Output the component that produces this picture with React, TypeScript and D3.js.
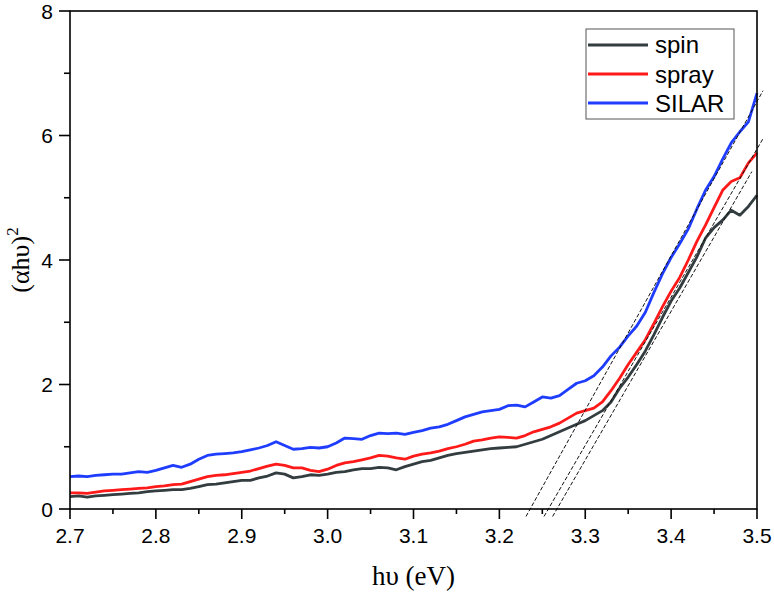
import React from "react";
import * as d3 from "d3";

const seriesNames = ["spin", "spray", "SILAR"];
const seriesColors = ["#333d40", "#ff1a1a", "#1f3dff"];

const spin = [
  0.20, 0.21, 0.19, 0.21, 0.22, 0.23, 0.24, 0.25, 0.26, 0.28,
  0.29, 0.30, 0.31, 0.31, 0.33, 0.36, 0.39, 0.40, 0.42, 0.44,
  0.46, 0.46, 0.50, 0.53, 0.58, 0.56, 0.50, 0.52, 0.55, 0.54,
  0.56, 0.59, 0.60, 0.63, 0.65, 0.65, 0.67, 0.66, 0.63, 0.68,
  0.72, 0.76, 0.78, 0.82, 0.86, 0.89, 0.91, 0.93, 0.95, 0.97,
  0.98, 0.99, 1.00, 1.04, 1.08, 1.12, 1.18, 1.24, 1.30, 1.36,
  1.42, 1.50, 1.58, 1.72, 1.94, 2.12, 2.32, 2.54, 2.80, 3.08,
  3.34, 3.55, 3.80, 4.05, 4.35, 4.52, 4.64, 4.80, 4.72, 4.86,
  5.04,
];

const spray = [
  0.26, 0.26, 0.25, 0.27, 0.29, 0.30, 0.31, 0.32, 0.33, 0.34,
  0.36, 0.37, 0.39, 0.40, 0.44, 0.48, 0.52, 0.54, 0.55, 0.57,
  0.59, 0.61, 0.65, 0.69, 0.72, 0.70, 0.66, 0.66, 0.62, 0.60,
  0.64, 0.70, 0.74, 0.76, 0.79, 0.82, 0.86, 0.85, 0.82, 0.80,
  0.85, 0.88, 0.90, 0.93, 0.97, 1.00, 1.04, 1.09, 1.11, 1.14,
  1.16, 1.15, 1.14, 1.18, 1.24, 1.28, 1.32, 1.38, 1.46, 1.54,
  1.58, 1.62, 1.72, 1.90, 2.10, 2.32, 2.52, 2.72, 2.98, 3.25,
  3.50, 3.72, 4.00, 4.30, 4.56, 4.84, 5.12, 5.26, 5.32, 5.56,
  5.72,
];

const silar = [
  0.52, 0.53, 0.52, 0.54, 0.55, 0.56, 0.56, 0.58, 0.60, 0.59,
  0.62, 0.66, 0.70, 0.67, 0.72, 0.80, 0.86, 0.88, 0.89, 0.90,
  0.92, 0.95, 0.98, 1.02, 1.08, 1.02, 0.96, 0.97, 0.99, 0.98,
  1.00, 1.06, 1.14, 1.13, 1.12, 1.18, 1.22, 1.21, 1.22, 1.20,
  1.23, 1.26, 1.30, 1.32, 1.36, 1.42, 1.48, 1.52, 1.56, 1.58,
  1.60, 1.66, 1.67, 1.64, 1.72, 1.80, 1.78, 1.82, 1.92, 2.02,
  2.06, 2.14, 2.28, 2.46, 2.60, 2.78, 2.94, 3.16, 3.48, 3.78,
  4.04, 4.26, 4.50, 4.82, 5.12, 5.34, 5.62, 5.88, 6.06, 6.22,
  6.68,
];

const energies = spin.map((_, i) => +(2.7 + i * 0.01).toFixed(2));

// Tauc tangent lines: [x, y] endpoints in data units
const tangentSilar = [[3.231, -0.12], [3.507, 6.72]];
const tangentSpray = [[3.252, -0.12], [3.507, 5.95]];
const tangentSpin = [[3.262, -0.12], [3.494, 5.42]];

const xTicks = [2.7, 2.8, 2.9, 3.0, 3.1, 3.2, 3.3, 3.4, 3.5];
const xMinor = [2.75, 2.85, 2.95, 3.05, 3.15, 3.25, 3.35, 3.45];
const yTicks = [0, 2, 4, 6, 8];
const yMinor = [1, 3, 5, 7];

export default function App() {
  const W = 774, H = 593;
  const L = 70, R = 757, T = 11, B = 509;
  const x = d3.scaleLinear().domain([2.7, 3.5]).range([L, R]);
  const y = d3.scaleLinear().domain([0, 8]).range([B, T]);
  const line = d3.line<number>().x((_, i) => x(energies[i])).y((d) => y(d));
  const data = [spin, spray, silar];
  const tangents = [tangentSilar, tangentSpray, tangentSpin];
  const sans = "'Liberation Sans', Arial, sans-serif";
  const serif = "'Liberation Serif', 'Times New Roman', serif";

  return (
    <svg width={W} height={H} style={{ position: "absolute", left: 0, top: 0, background: "#fff" }}>
      {data.map((s, k) => (
        <path key={k} d={line(s) || ""} fill="none" stroke={seriesColors[k]} strokeWidth={2.8} strokeLinejoin="round" />
      ))}
      {tangents.map((t, k) => (
        <line key={k} x1={x(t[0][0])} y1={y(t[0][1])} x2={x(t[1][0])} y2={y(t[1][1])}
          stroke="#111" strokeWidth={1} strokeDasharray="4,2" />
      ))}
      <rect x={L} y={T} width={R - L} height={B - T} fill="none" stroke="#000" strokeWidth={1.6} />
      {xTicks.map((t) => (
        <g key={t}>
          <line x1={x(t)} x2={x(t)} y1={B} y2={B + 10} stroke="#000" strokeWidth={1.6} />
          <text x={x(t)} y={543} textAnchor="middle" fontFamily={sans} fontSize={21} fill="#000">{t.toFixed(1)}</text>
        </g>
      ))}
      {xMinor.map((t) => (
        <line key={t} x1={x(t)} x2={x(t)} y1={B} y2={B + 5} stroke="#000" strokeWidth={1.6} />
      ))}
      {yTicks.map((t) => (
        <g key={t}>
          <line x1={L - 11} x2={L} y1={y(t)} y2={y(t)} stroke="#000" strokeWidth={1.6} />
          <text x={53} y={y(t) + 7.5} textAnchor="end" fontFamily={sans} fontSize={21} fill="#000">{t}</text>
        </g>
      ))}
      {yMinor.map((t) => (
        <line key={t} x1={L - 6} x2={L} y1={y(t)} y2={y(t)} stroke="#000" strokeWidth={1.6} />
      ))}
      <text x={(L + R) / 2} y={585} textAnchor="middle" fontFamily={serif} fontSize={27} fill="#000">hυ (eV)</text>
      <text transform={`translate(29, ${(T + B) / 2}) rotate(-90)`} textAnchor="middle" fontFamily={serif} fontSize={26} fill="#000">
        (αhυ)<tspan dy={-11} fontSize={17}>2</tspan>
      </text>
      <rect x={586} y={29} width={148} height={90} fill="#fff" stroke="#555" strokeWidth={1} />
      {seriesNames.map((n, k) => (
        <g key={n}>
          <line x1={588} x2={648} y1={45 + k * 29} y2={45 + k * 29} stroke={seriesColors[k]} strokeWidth={2.8} />
          <text x={655} y={53 + k * 29.5} fontFamily={sans} fontSize={24} fill="#000">{n}</text>
        </g>
      ))}
    </svg>
  );
}
